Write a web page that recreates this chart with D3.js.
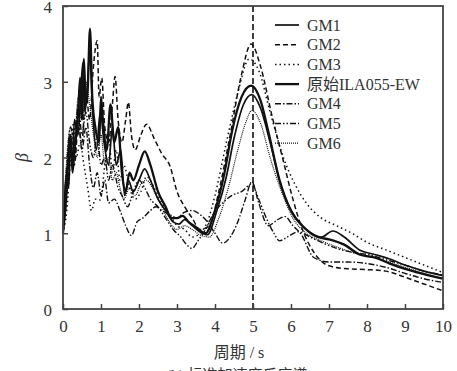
<!DOCTYPE html>
<html>
<head>
<meta charset="utf-8">
<script src="https://cdn.jsdelivr.net/npm/d3@7/dist/d3.min.js"></script>
<style>
  html, body { margin: 0; padding: 0; background: #fff; }
  svg { display: block; }
  text { fill: #333; }
</style>
</head>
<body>
<svg id="chart" width="457" height="371"></svg>
<script>
// Standardised acceleration response spectra, [period (s), beta]
const gm1 = [[0,1.0],[0.1,1.8],[0.15,1.6],[0.2,2.2],[0.25,1.9],[0.3,2.5],[0.4,2.3],[0.52,3.25],[0.58,2.6],[0.65,3.0],[0.7,3.4],[0.78,2.6],[0.88,2.1],[0.98,2.6],[1.08,2.2],[1.2,1.9],[1.3,2.4],[1.4,1.9],[1.52,2.1],[1.62,1.5],[1.72,1.7],[1.85,1.55],[2.0,1.7],[2.15,1.85],[2.3,1.7],[2.5,1.45],[2.7,1.3],[2.9,1.15],[3.05,1.12],[3.2,1.18],[3.4,1.1],[3.6,1.02],[3.8,0.98],[4.05,1.3],[4.3,1.75],[4.5,2.25],[4.75,2.7],[4.97,2.83],[5.2,2.65],[5.45,2.2],[5.75,1.6],[6.05,1.25],[6.4,1.05],[6.8,0.95],[7.1,1.03],[7.4,0.95],[7.8,0.78],[8.2,0.72],[8.6,0.66],[9.0,0.58],[9.5,0.5],[10,0.44]];
const gm2 = [[0,1.0],[0.1,1.5],[0.2,2.1],[0.3,1.9],[0.4,2.4],[0.5,2.2],[0.6,2.9],[0.7,2.5],[0.8,3.2],[0.9,3.54],[0.95,2.8],[1.02,3.05],[1.1,2.4],[1.2,2.2],[1.3,2.7],[1.37,3.07],[1.45,2.5],[1.55,2.2],[1.65,2.5],[1.72,2.73],[1.8,2.3],[1.9,2.1],[2.05,2.3],[2.2,2.44],[2.4,2.25],[2.6,2.05],[2.82,1.88],[3.0,1.55],[3.2,1.35],[3.4,1.2],[3.6,1.05],[3.85,1.1],[4.1,1.55],[4.4,2.3],[4.7,3.1],[4.95,3.5],[5.2,3.2],[5.5,2.55],[5.8,1.95],[6.05,1.45],[6.3,1.05],[6.6,0.75],[7.0,0.57],[7.5,0.53],[8.0,0.52],[8.5,0.5],[9.0,0.42],[9.5,0.33],[10,0.24]];
const gm3 = [[0,1.0],[0.1,1.3],[0.2,2.0],[0.28,2.46],[0.35,2.0],[0.45,2.2],[0.55,1.9],[0.65,1.6],[0.75,1.3],[0.85,1.45],[0.98,1.44],[1.1,1.9],[1.2,2.3],[1.3,1.8],[1.4,2.1],[1.5,1.7],[1.6,1.9],[1.75,1.6],[1.9,1.45],[2.05,1.55],[2.2,1.75],[2.4,1.6],[2.6,1.4],[2.8,1.25],[3.0,1.1],[3.2,1.05],[3.4,0.95],[3.6,1.0],[3.8,1.15],[4.0,1.5],[4.3,2.2],[4.6,2.85],[4.9,3.3],[5.15,3.15],[5.45,2.6],[5.8,2.0],[6.1,1.65],[6.4,1.4],[6.8,1.2],[7.2,1.1],[7.6,1.0],[8.0,0.88],[8.5,0.78],[9.0,0.68],[9.5,0.58],[10,0.48]];
const ila055ew = [[0,1.0],[0.1,1.6],[0.15,2.1],[0.2,2.3],[0.25,1.8],[0.3,2.1],[0.4,2.6],[0.45,3.05],[0.5,2.5],[0.55,3.3],[0.6,2.7],[0.65,2.9],[0.71,3.7],[0.77,2.8],[0.85,2.4],[0.95,2.2],[1.0,2.8],[1.05,2.5],[1.15,2.1],[1.25,2.7],[1.35,2.2],[1.45,2.4],[1.55,1.8],[1.65,1.55],[1.75,1.8],[1.85,1.7],[2.0,1.9],[2.15,2.08],[2.3,1.9],[2.5,1.55],[2.7,1.35],[2.85,1.2],[3.0,1.2],[3.15,1.23],[3.3,1.15],[3.5,1.08],[3.75,1.0],[4.0,1.3],[4.25,1.8],[4.45,2.35],[4.7,2.8],[4.95,2.95],[5.2,2.75],[5.4,2.35],[5.7,1.7],[6.0,1.3],[6.3,1.1],[6.7,0.95],[7.0,0.92],[7.4,0.85],[7.8,0.72],[8.2,0.68],[8.6,0.6],[9.0,0.53],[9.5,0.46],[10,0.4]];
const gm4 = [[0,1.0],[0.1,1.7],[0.2,2.3],[0.3,2.0],[0.4,2.5],[0.5,2.1],[0.6,2.4],[0.7,1.9],[0.8,1.6],[0.9,1.8],[1.0,1.5],[1.1,1.7],[1.2,1.4],[1.35,1.45],[1.5,1.3],[1.65,1.1],[1.8,0.97],[1.95,1.15],[2.1,1.2],[2.3,1.3],[2.45,1.35],[2.6,1.3],[2.8,1.25],[3.0,1.2],[3.2,1.28],[3.4,1.3],[3.6,1.25],[3.8,1.15],[4.0,1.0],[4.2,0.87],[4.4,0.95],[4.6,1.15],[4.8,1.45],[4.97,1.68],[5.15,1.4],[5.4,1.1],[5.65,1.18],[5.85,1.22],[6.05,1.1],[6.25,1.0],[6.6,0.68],[7.0,0.62],[7.5,0.62],[8.0,0.6],[8.5,0.55],[9.0,0.47],[9.5,0.4],[10,0.35]];
const gm5 = [[0,1.0],[0.1,1.9],[0.2,2.4],[0.3,2.2],[0.4,2.7],[0.5,2.3],[0.6,2.6],[0.7,2.2],[0.8,2.0],[0.9,2.3],[1.0,1.9],[1.1,2.0],[1.2,1.7],[1.3,1.9],[1.45,1.6],[1.55,1.5],[1.7,1.35],[1.85,1.55],[2.0,1.7],[2.15,1.6],[2.3,1.45],[2.5,1.35],[2.7,1.2],[2.9,1.05],[3.1,0.95],[3.25,0.85],[3.4,0.8],[3.55,0.9],[3.75,1.05],[3.95,1.25],[4.2,1.4],[4.45,1.5],[4.7,1.55],[4.97,1.65],[5.15,1.45],[5.35,1.2],[5.55,1.0],[5.7,0.9],[5.9,0.95],[6.2,1.02],[6.5,0.95],[6.8,0.88],[7.2,0.8],[7.6,0.75],[8.0,0.72],[8.5,0.65],[9.0,0.58],[9.5,0.5],[10,0.45]];
const gm6 = [[0,1.0],[0.1,2.0],[0.2,2.4],[0.3,2.2],[0.4,2.8],[0.5,2.5],[0.6,3.0],[0.7,2.7],[0.8,2.3],[0.9,2.0],[1.0,2.3],[1.1,1.9],[1.2,2.0],[1.3,1.7],[1.4,1.8],[1.5,1.6],[1.6,1.45],[1.75,1.6],[1.9,1.5],[2.05,1.65],[2.2,1.7],[2.4,1.55],[2.6,1.35],[2.8,1.15],[3.0,1.05],[3.2,1.1],[3.4,1.05],[3.6,0.98],[3.85,0.95],[4.1,1.2],[4.35,1.6],[4.6,2.1],[4.8,2.45],[4.97,2.62],[5.2,2.45],[5.45,2.0],[5.75,1.55],[6.05,1.2],[6.4,1.0],[6.8,0.9],[7.2,0.82],[7.6,0.75],[8.0,0.7],[8.5,0.63],[9.0,0.55],[9.5,0.47],[10,0.4]];

const seriesNames = ["GM1", "GM2", "GM3", "原始ILA055-EW", "GM4", "GM5", "GM6"];
const seriesData = [gm1, gm2, gm3, ila055ew, gm4, gm5, gm6];
const xTicks = [0, 1, 2, 3, 4, 5, 6, 7, 8, 9, 10];
const yTicks = [0, 1, 2, 3, 4];
const markedPeriod = 5;

const styles = [
  { w: 1.7, dash: null },
  { w: 1.5, dash: "5,3" },
  { w: 1.5, dash: "1.5,3" },
  { w: 2.3, dash: null },
  { w: 1.4, dash: "6,2,1.5,2" },
  { w: 1.4, dash: "6,2,1.5,2,1.5,2" },
  { w: 1.2, dash: "1,1" }
];

const svg = d3.select("#chart");
const mLeft = 63, mRight = 443, mTop = 6, mBottom = 309;
const x = d3.scaleLinear().domain([0, 10]).range([mLeft, mRight]);
const y = d3.scaleLinear().domain([0, 4]).range([mBottom, mTop]);

const serif = "'Liberation Serif', 'Times New Roman', 'Noto Sans CJK SC', serif";

// Curves
const line = d3.line().x(d => x(d[0])).y(d => y(d[1])).curve(d3.curveMonotoneX);
const plot = svg.append("g");
seriesData.forEach((s, i) => {
  plot.append("path")
    .datum(s)
    .attr("d", line)
    .attr("fill", "none")
    .attr("stroke", "#111")
    .attr("stroke-width", styles[i].w)
    .attr("stroke-dasharray", styles[i].dash)
    .attr("stroke-linejoin", "round");
});

// Vertical marker at T = 5 s
svg.append("line")
  .attr("x1", x(markedPeriod)).attr("x2", x(markedPeriod))
  .attr("y1", y(0)).attr("y2", y(4))
  .attr("stroke", "#111").attr("stroke-width", 1.6)
  .attr("stroke-dasharray", "6,3");

// Frame
svg.append("rect")
  .attr("x", mLeft).attr("y", mTop)
  .attr("width", mRight - mLeft).attr("height", mBottom - mTop)
  .attr("fill", "none").attr("stroke", "#444").attr("stroke-width", 1.8);

// Axes with inward ticks
const fmt = d3.format("d");
const xAxis = svg.append("g").attr("transform", `translate(0,${mBottom})`)
  .call(d3.axisBottom(x).tickValues(xTicks).tickFormat(fmt).tickSizeInner(-5).tickSizeOuter(0).tickPadding(11));
const yAxis = svg.append("g").attr("transform", `translate(${mLeft},0)`)
  .call(d3.axisLeft(y).tickValues(yTicks).tickFormat(fmt).tickSizeInner(-5).tickSizeOuter(0).tickPadding(11));
[xAxis, yAxis].forEach(a => {
  a.select(".domain").remove();
  a.selectAll(".tick line").attr("stroke", "#444").attr("stroke-width", 1.5);
  a.selectAll(".tick text").attr("font-family", serif).attr("font-size", 17).attr("fill", "#333");
});
yAxis.selectAll(".tick text").attr("y", 1.5);

// Axis titles
svg.append("text")
  .attr("transform", `translate(28,${y(2)}) rotate(-90)`)
  .attr("text-anchor", "middle")
  .attr("font-family", serif).attr("font-style", "italic").attr("font-size", 18)
  .text("β");
svg.append("text")
  .attr("x", 239).attr("y", 358)
  .attr("text-anchor", "middle")
  .attr("font-family", serif).attr("font-size", 16)
  .text("周期 / s");
svg.append("text")
  .attr("x", 237).attr("y", 380)
  .attr("text-anchor", "middle")
  .attr("font-family", serif).attr("font-size", 15)
  .text("(b)  标准加速度反应谱");

// Legend
const legend = svg.append("g");
seriesNames.forEach((name, i) => {
  const ly = 25 + i * 19.7;
  legend.append("line")
    .attr("x1", 275).attr("x2", 299).attr("y1", ly).attr("y2", ly)
    .attr("stroke", "#111").attr("stroke-width", styles[i].w)
    .attr("stroke-dasharray", styles[i].dash);
  legend.append("text")
    .attr("x", 307).attr("y", ly).attr("dy", "0.35em")
    .attr("font-family", serif).attr("font-size", 16)
    .text(name);
});
</script>
</body>
</html>
